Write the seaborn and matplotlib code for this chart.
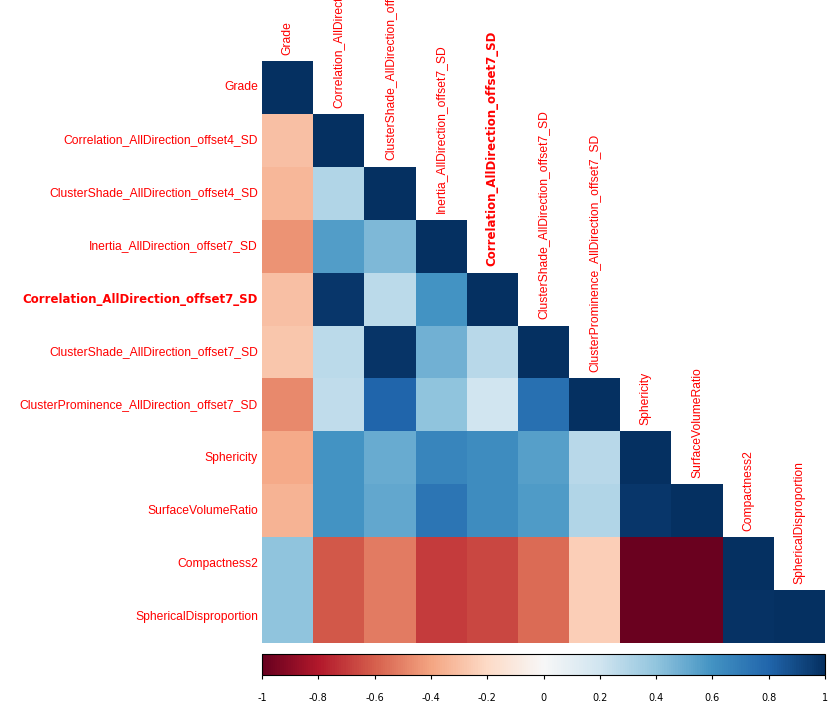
import numpy as np
import pandas as pd
import matplotlib
matplotlib.use("Agg")
import matplotlib.pyplot as plt
import seaborn as sns

variables = [
    "Grade",
    "Correlation_AllDirection_offset4_SD",
    "ClusterShade_AllDirection_offset4_SD",
    "Inertia_AllDirection_offset7_SD",
    "Correlation_AllDirection_offset7_SD",
    "ClusterShade_AllDirection_offset7_SD",
    "ClusterProminence_AllDirection_offset7_SD",
    "Sphericity",
    "SurfaceVolumeRatio",
    "Compactness2",
    "SphericalDisproportion",
]

# lower triangle rows (values left of the diagonal)
row_grade = []
row_corr4 = [-0.30]
row_cs4 = [-0.33, 0.30]
row_inertia7 = [-0.45, 0.56, 0.45]
row_corr7 = [-0.30, 0.97, 0.27, 0.60]
row_cs7 = [-0.28, 0.27, 0.98, 0.48, 0.28]
row_cp7 = [-0.48, 0.25, 0.80, 0.40, 0.20, 0.75]
row_sphericity = [-0.38, 0.60, 0.50, 0.66, 0.63, 0.55, 0.28]
row_svr = [-0.35, 0.60, 0.52, 0.73, 0.63, 0.57, 0.30, 0.97]
row_compact2 = [0.40, -0.62, -0.52, -0.70, -0.67, -0.57, -0.25, -0.99, -0.99]
row_sphdisp = [0.40, -0.62, -0.52, -0.70, -0.67, -0.57, -0.25, -0.99, -0.99, 0.99]

rows = [row_grade, row_corr4, row_cs4, row_inertia7, row_corr7, row_cs7,
        row_cp7, row_sphericity, row_svr, row_compact2, row_sphdisp]

n = len(variables)
mat = np.eye(n)
for i, r in enumerate(rows):
    for j, v in enumerate(r):
        mat[i, j] = v
        mat[j, i] = v
corr = pd.DataFrame(mat, index=variables, columns=variables)
mask = np.triu(np.ones((n, n), dtype=bool), k=1)

bold_label = "Correlation_AllDirection_offset7_SD"

fig = plt.figure(figsize=(8.29, 7.09), dpi=100)
ax = fig.add_axes([262 / 829, 1 - 643 / 709, 563 / 829, 582 / 709])
cax = fig.add_axes([262 / 829, 1 - 675 / 709, 563 / 829, 21 / 709])

sns.heatmap(corr, mask=mask, cmap="RdBu", vmin=-1, vmax=1, ax=ax,
            cbar_ax=cax, cbar_kws={"orientation": "horizontal"},
            linewidths=0, square=False,
            xticklabels=False, yticklabels=False)

# row labels
for i, name in enumerate(variables):
    if name == bold_label:
        ax.text(-0.08, i + 0.5, name, ha="right", va="center", color="red",
                fontsize=8.5, fontweight="bold", family="DejaVu Sans")
    else:
        ax.text(-0.08, i + 0.5, name, ha="right", va="center", color="red",
                fontsize=8.7, family="Liberation Sans")

# column labels on top of the diagonal
for j, name in enumerate(variables):
    kw = dict(fontweight="bold", family="DejaVu Sans", fontsize=8.5) if name == bold_label \
        else dict(family="Liberation Sans", fontsize=8.7)
    ax.text(j + 0.5, j - 0.12, name, ha="center", va="bottom", rotation=90,
            color="red", clip_on=False, **kw)

ax.set_xlabel("")
ax.set_ylabel("")
for s in ax.spines.values():
    s.set_visible(False)

cb = ax.collections[0].colorbar
ticks = np.round(np.arange(-1, 1.01, 0.2), 1)
cb.set_ticks(ticks)
cb.set_ticklabels(["-1" if t == -1 else "1" if t == 1 else "0" if t == 0 else f"{t:g}" for t in ticks])
cax.tick_params(axis="x", length=3, labelsize=7, pad=10)
cb.outline.set_visible(True)
cb.outline.set_edgecolor("black")
cb.outline.set_linewidth(0.8)

fig.savefig("out.png", dpi=100)
